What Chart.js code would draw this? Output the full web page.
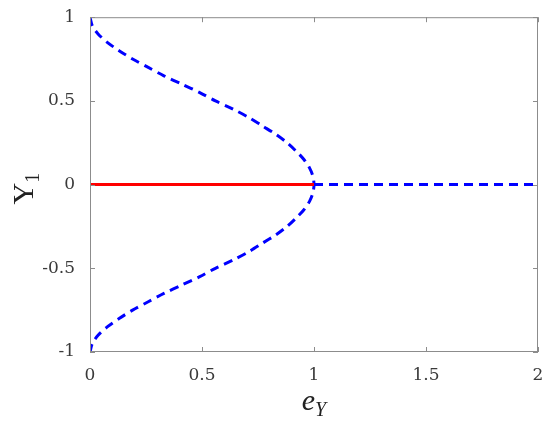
<!DOCTYPE html>
<html>
<head>
<meta charset="utf-8">
<script src="https://cdn.jsdelivr.net/npm/chart.js@4.4.1/dist/chart.umd.min.js"></script>
<style>
  html, body { margin: 0; padding: 0; background: #fff; }
  #wrap { width: 550px; height: 426px; position: relative; }
</style>
</head>
<body>
<div id="wrap"><canvas id="chartPitchfork"></canvas></div>
<script>
(() => {
  // valores
  const xTicks = [0, 0.5, 1, 1.5, 2];
  const yTicks = [-1, -0.5, 0, 0.5, 1];

  // rama inestable (curva azul), Y1 de 1 a -1
  const branchY = [1, 0.95, 0.9, 0.85, 0.8, 0.75, 0.7, 0.65, 0.6, 0.55, 0.5, 0.45, 0.4, 0.35, 0.3, 0.25, 0.2, 0.15, 0.1, 0.05, 0,
                   -0.05, -0.1, -0.15, -0.2, -0.25, -0.3, -0.35, -0.4, -0.45, -0.5, -0.55, -0.6, -0.65, -0.7, -0.75, -0.8, -0.85, -0.9, -0.95, -1];
  const branchE = [0, 0.01, 0.036, 0.077, 0.13, 0.19, 0.26, 0.33, 0.41, 0.49, 0.56, 0.64, 0.71, 0.77, 0.83, 0.88, 0.92, 0.955, 0.98, 0.995, 1,
                   0.995, 0.98, 0.955, 0.92, 0.88, 0.83, 0.77, 0.71, 0.64, 0.56, 0.49, 0.41, 0.33, 0.26, 0.19, 0.13, 0.077, 0.036, 0.01, 0];

  // Y1 = 0: estable (rojo) y inestable (azul)
  const stableE = [0, 1];
  const stableY = [0, 0];
  const unstableE = [1, 2];
  const unstableY = [0, 0];

  const toPts = (xs, ys) => xs.map((x, i) => ({ x, y: ys[i] }));

  const AXIS_COLOR = "#8c8c8c";
  const TEXT_COLOR = "#3a3a3a";
  const FONT = "'Liberation Serif', 'DejaVu Serif', serif";
  const TICK_FONT = "'DejaVu Serif', serif";

  // caja, marcas hacia dentro y titulos con subindice
  const boxPlugin = {
    id: "boxPlugin",
    afterDatasetsDraw(chart) {
      const { ctx, chartArea: a, scales } = chart;
      ctx.save();
      ctx.strokeStyle = AXIS_COLOR;
      ctx.lineWidth = 1;
      ctx.strokeRect(a.left + 0.5, a.top + 0.5, a.right - a.left - 1, a.bottom - a.top - 1);
      const L = 5;
      ctx.beginPath();
      xTicks.forEach(v => {
        const px = Math.round(scales.x.getPixelForValue(v)) + 0.5;
        ctx.moveTo(px, a.bottom); ctx.lineTo(px, a.bottom - L);
        ctx.moveTo(px, a.top); ctx.lineTo(px, a.top + L);
      });
      yTicks.forEach(v => {
        const py = Math.round(scales.y.getPixelForValue(v)) + 0.5;
        ctx.moveTo(a.left, py); ctx.lineTo(a.left + L, py);
        ctx.moveTo(a.right, py); ctx.lineTo(a.right - L, py);
      });
      ctx.stroke();
      ctx.restore();
    },
    afterDraw(chart) {
      const { ctx, chartArea: a } = chart;
      ctx.save();
      ctx.fillStyle = "#222";
      ctx.textBaseline = "alphabetic";
      // e_Y
      const cx = (a.left + a.right) / 2;
      ctx.font = "italic 30px " + FONT;
      const wE = ctx.measureText("e").width;
      ctx.font = "italic 20px " + FONT;
      const wY = ctx.measureText("Y").width;
      const x0 = cx - (wE + wY) / 2;
      ctx.textAlign = "left";
      ctx.font = "italic 30px " + FONT;
      ctx.fillText("e", x0, 410);
      ctx.font = "italic 20px " + FONT;
      ctx.fillText("Y", x0 + wE, 416);
      // Y_1
      ctx.translate(33, (a.top + a.bottom) / 2 + 4);
      ctx.rotate(-Math.PI / 2);
      ctx.font = "30px " + FONT;
      const wY1 = ctx.measureText("Y").width;
      ctx.font = "20px " + FONT;
      const w1 = ctx.measureText("1").width;
      const y0 = -(wY1 + w1) / 2;
      ctx.font = "30px " + FONT;
      ctx.fillText("Y", y0, 0);
      ctx.font = "20px " + FONT;
      ctx.fillText("1", y0 + wY1, 6);
      ctx.restore();
    }
  };

  function renderPitchfork(canvasId) {
    const el = document.getElementById(canvasId);
    if (!el) return;

    new Chart(el, {
      type: "scatter",
      data: {
        datasets: [
          {
            label: "estable",
            data: toPts(stableE, stableY),
            showLine: true,
            borderColor: "#ff0000",
            borderWidth: 3,
            pointRadius: 0
          },
          {
            label: "inestable",
            data: toPts(unstableE, unstableY),
            showLine: true,
            borderColor: "#0000ff",
            borderWidth: 3,
            borderDash: [9, 6],
            pointRadius: 0
          },
          {
            label: "rama",
            data: toPts(branchE, branchY),
            showLine: true,
            borderColor: "#0000ff",
            borderWidth: 3,
            borderDash: [9, 6],
            tension: 0.3,
            pointRadius: 0
          }
        ]
      },
      options: {
        responsive: true,
        maintainAspectRatio: false,
        animation: false,
        layout: { padding: { top: 15, right: 12, left: 0, bottom: 0 } },
        plugins: {
          legend: { display: false },
          tooltip: { enabled: false }
        },
        scales: {
          x: {
            type: "linear",
            min: 0, max: 2,
            afterBuildTicks: s => { s.ticks = xTicks.map(v => ({ value: v })); },
            afterFit: s => { s.height = 74; },
            grid: { display: false },
            border: { display: false },
            ticks: {
              color: TEXT_COLOR,
              font: { family: TICK_FONT, size: 17 },
              padding: 5,
              maxRotation: 0,
              callback: v => String(v)
            }
          },
          y: {
            type: "linear",
            min: -1, max: 1,
            afterBuildTicks: s => { s.ticks = yTicks.map(v => ({ value: v })); },
            afterFit: s => { s.width = 90; },
            grid: { display: false },
            border: { display: false },
            ticks: {
              color: TEXT_COLOR,
              font: { family: TICK_FONT, size: 17 },
              padding: 7,
              callback: v => String(v)
            }
          }
        }
      },
      plugins: [boxPlugin]
    });
  }

  renderPitchfork("chartPitchfork");
})();
</script>
</body>
</html>
